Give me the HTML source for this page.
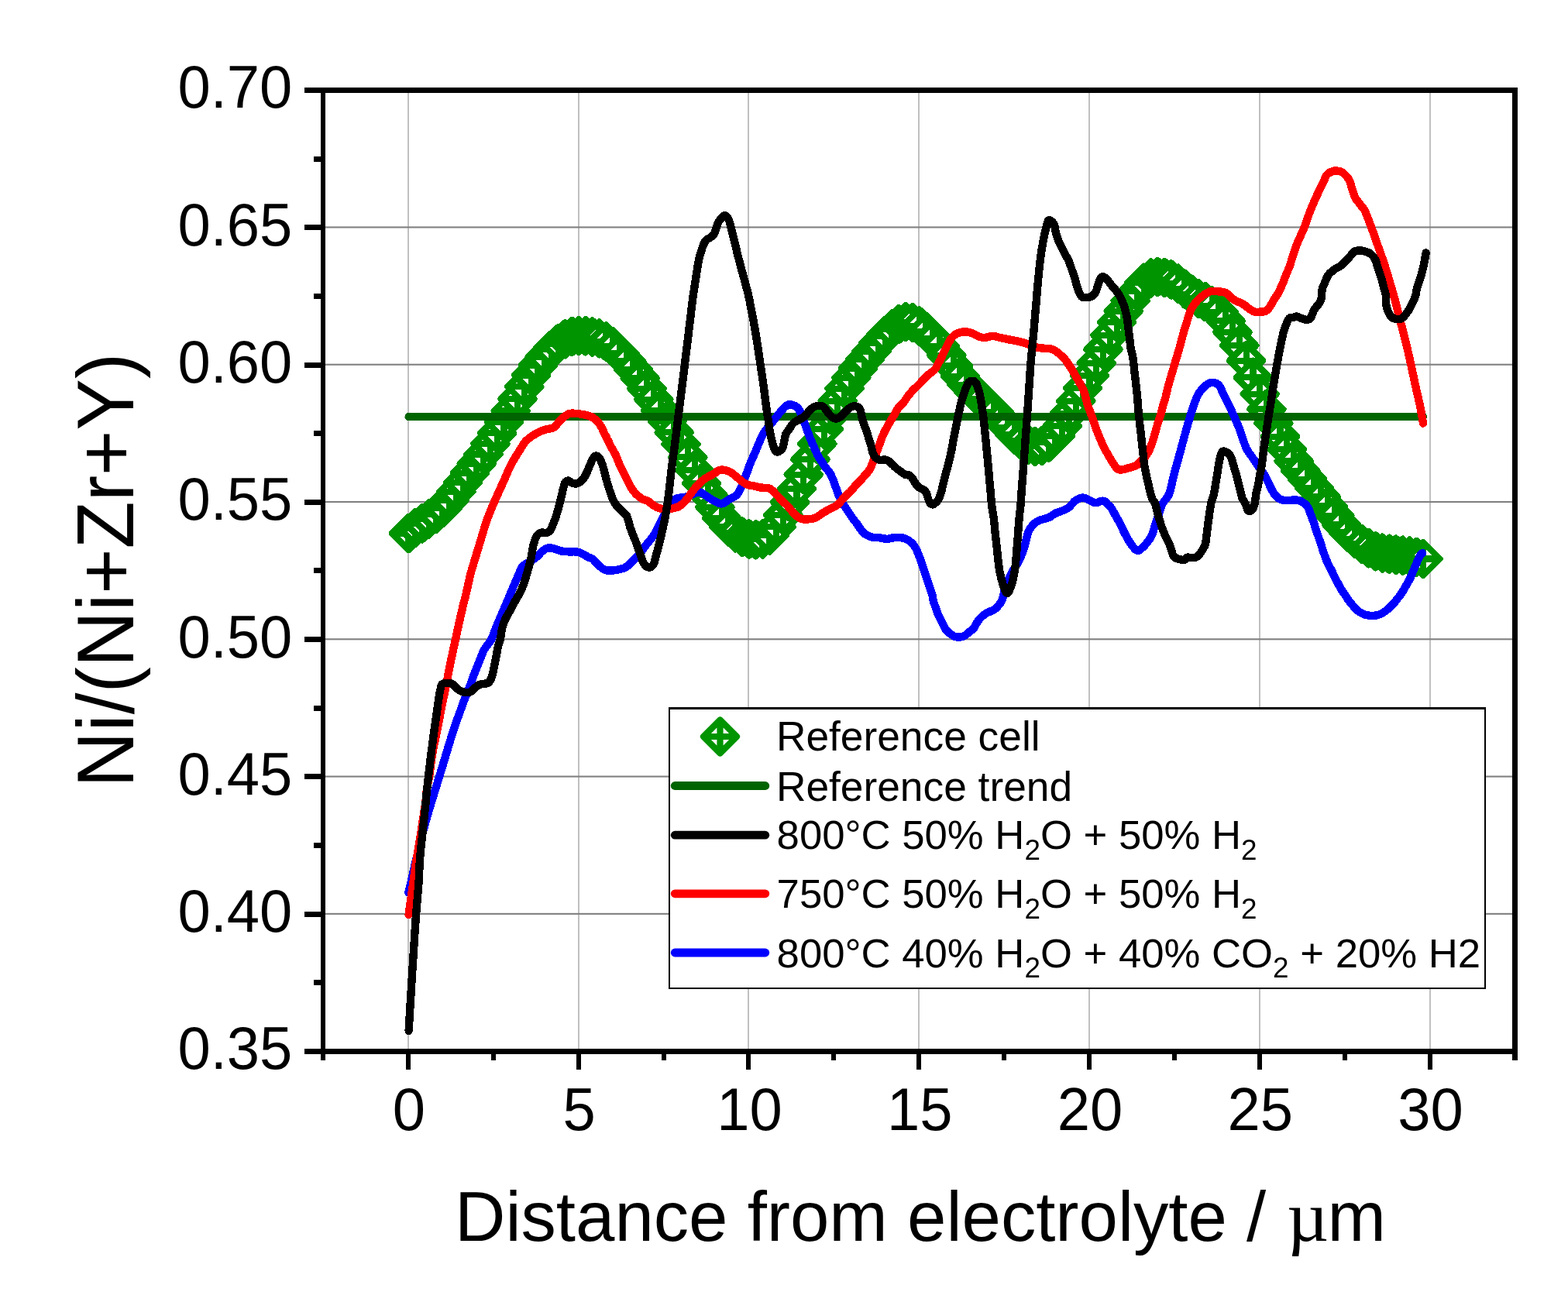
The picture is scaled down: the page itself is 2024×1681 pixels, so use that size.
<!DOCTYPE html>
<html lang="en">
<head>
<meta charset="utf-8">
<title>Ni/(Ni+Zr+Y) vs distance from electrolyte</title>
<style>
html,body{margin:0;padding:0;background:#fff;}
body{width:2024px;height:1681px;overflow:hidden;}
svg{display:block;}
text{font-family:"Liberation Sans",Arial,Helvetica,sans-serif;fill:#000;}
.mu{font-family:"Liberation Serif","DejaVu Serif",serif;}
</style>
</head>
<body>
<svg xmlns="http://www.w3.org/2000/svg" width="2024" height="1681" viewBox="0 0 2024 1681">
<rect width="2024" height="1681" fill="#fff"/>
<g id="grid" shape-rendering="crispEdges">
<rect x="526" y="120" width="2" height="1234" fill="#c0c0c0"/>
<rect x="746" y="120" width="2" height="1234" fill="#c0c0c0"/>
<rect x="965" y="120" width="2" height="1234" fill="#c0c0c0"/>
<rect x="1185" y="120" width="2" height="1234" fill="#c0c0c0"/>
<rect x="1405" y="120" width="2" height="1234" fill="#c0c0c0"/>
<rect x="1625" y="120" width="2" height="1234" fill="#c0c0c0"/>
<rect x="1845" y="120" width="2" height="1234" fill="#c0c0c0"/>
</g>
<g id="hgrid">
<rect x="420" y="1178.81" width="1532" height="2.1" fill="#808080"/>
<rect x="420" y="1001.52" width="1532" height="2.1" fill="#808080"/>
<rect x="420" y="824.24" width="1532" height="2.1" fill="#808080"/>
<rect x="420" y="646.95" width="1532" height="2.1" fill="#808080"/>
<rect x="420" y="469.67" width="1532" height="2.1" fill="#808080"/>
<rect x="420" y="292.38" width="1532" height="2.1" fill="#808080"/>
</g>
<g id="refcell" shape-rendering="crispEdges" fill="#fff" stroke="#009400" stroke-width="8.2" stroke-linejoin="round">
<path d="M527.4 667.1l21.5 21.5l-21.5 21.5l-21.5 -21.5zm0 0v43.0m-21.5 -21.5h43.0"/>
<path d="M536.2 660.0l21.5 21.5l-21.5 21.5l-21.5 -21.5zm0 0v43.0m-21.5 -21.5h43.0"/>
<path d="M545.0 654.3l21.5 21.5l-21.5 21.5l-21.5 -21.5zm0 0v43.0m-21.5 -21.5h43.0"/>
<path d="M553.8 648.4l21.5 21.5l-21.5 21.5l-21.5 -21.5zm0 0v43.0m-21.5 -21.5h43.0"/>
<path d="M562.6 642.1l21.5 21.5l-21.5 21.5l-21.5 -21.5zm0 0v43.0m-21.5 -21.5h43.0"/>
<path d="M571.4 634.1l21.5 21.5l-21.5 21.5l-21.5 -21.5zm0 0v43.0m-21.5 -21.5h43.0"/>
<path d="M580.1 624.4l21.5 21.5l-21.5 21.5l-21.5 -21.5zm0 0v43.0m-21.5 -21.5h43.0"/>
<path d="M588.9 613.1l21.5 21.5l-21.5 21.5l-21.5 -21.5zm0 0v43.0m-21.5 -21.5h43.0"/>
<path d="M597.7 601.2l21.5 21.5l-21.5 21.5l-21.5 -21.5zm0 0v43.0m-21.5 -21.5h43.0"/>
<path d="M606.5 589.1l21.5 21.5l-21.5 21.5l-21.5 -21.5zm0 0v43.0m-21.5 -21.5h43.0"/>
<path d="M615.3 577.0l21.5 21.5l-21.5 21.5l-21.5 -21.5zm0 0v43.0m-21.5 -21.5h43.0"/>
<path d="M624.1 564.9l21.5 21.5l-21.5 21.5l-21.5 -21.5zm0 0v43.0m-21.5 -21.5h43.0"/>
<path d="M632.9 551.4l21.5 21.5l-21.5 21.5l-21.5 -21.5zm0 0v43.0m-21.5 -21.5h43.0"/>
<path d="M641.7 537.7l21.5 21.5l-21.5 21.5l-21.5 -21.5zm0 0v43.0m-21.5 -21.5h43.0"/>
<path d="M650.5 523.4l21.5 21.5l-21.5 21.5l-21.5 -21.5zm0 0v43.0m-21.5 -21.5h43.0"/>
<path d="M659.2 509.0l21.5 21.5l-21.5 21.5l-21.5 -21.5zm0 0v43.0m-21.5 -21.5h43.0"/>
<path d="M668.0 493.5l21.5 21.5l-21.5 21.5l-21.5 -21.5zm0 0v43.0m-21.5 -21.5h43.0"/>
<path d="M676.8 477.7l21.5 21.5l-21.5 21.5l-21.5 -21.5zm0 0v43.0m-21.5 -21.5h43.0"/>
<path d="M685.6 462.9l21.5 21.5l-21.5 21.5l-21.5 -21.5zm0 0v43.0m-21.5 -21.5h43.0"/>
<path d="M694.4 450.2l21.5 21.5l-21.5 21.5l-21.5 -21.5zm0 0v43.0m-21.5 -21.5h43.0"/>
<path d="M703.2 439.3l21.5 21.5l-21.5 21.5l-21.5 -21.5zm0 0v43.0m-21.5 -21.5h43.0"/>
<path d="M712.0 429.8l21.5 21.5l-21.5 21.5l-21.5 -21.5zm0 0v43.0m-21.5 -21.5h43.0"/>
<path d="M720.8 421.9l21.5 21.5l-21.5 21.5l-21.5 -21.5zm0 0v43.0m-21.5 -21.5h43.0"/>
<path d="M729.6 416.2l21.5 21.5l-21.5 21.5l-21.5 -21.5zm0 0v43.0m-21.5 -21.5h43.0"/>
<path d="M738.4 413.0l21.5 21.5l-21.5 21.5l-21.5 -21.5zm0 0v43.0m-21.5 -21.5h43.0"/>
<path d="M747.1 412.1l21.5 21.5l-21.5 21.5l-21.5 -21.5zm0 0v43.0m-21.5 -21.5h43.0"/>
<path d="M755.9 412.3l21.5 21.5l-21.5 21.5l-21.5 -21.5zm0 0v43.0m-21.5 -21.5h43.0"/>
<path d="M764.7 413.5l21.5 21.5l-21.5 21.5l-21.5 -21.5zm0 0v43.0m-21.5 -21.5h43.0"/>
<path d="M773.5 415.4l21.5 21.5l-21.5 21.5l-21.5 -21.5zm0 0v43.0m-21.5 -21.5h43.0"/>
<path d="M782.3 419.5l21.5 21.5l-21.5 21.5l-21.5 -21.5zm0 0v43.0m-21.5 -21.5h43.0"/>
<path d="M791.1 425.9l21.5 21.5l-21.5 21.5l-21.5 -21.5zm0 0v43.0m-21.5 -21.5h43.0"/>
<path d="M799.9 434.8l21.5 21.5l-21.5 21.5l-21.5 -21.5zm0 0v43.0m-21.5 -21.5h43.0"/>
<path d="M808.7 444.9l21.5 21.5l-21.5 21.5l-21.5 -21.5zm0 0v43.0m-21.5 -21.5h43.0"/>
<path d="M817.5 455.6l21.5 21.5l-21.5 21.5l-21.5 -21.5zm0 0v43.0m-21.5 -21.5h43.0"/>
<path d="M826.3 467.0l21.5 21.5l-21.5 21.5l-21.5 -21.5zm0 0v43.0m-21.5 -21.5h43.0"/>
<path d="M835.0 480.3l21.5 21.5l-21.5 21.5l-21.5 -21.5zm0 0v43.0m-21.5 -21.5h43.0"/>
<path d="M843.8 494.2l21.5 21.5l-21.5 21.5l-21.5 -21.5zm0 0v43.0m-21.5 -21.5h43.0"/>
<path d="M852.6 508.1l21.5 21.5l-21.5 21.5l-21.5 -21.5zm0 0v43.0m-21.5 -21.5h43.0"/>
<path d="M861.4 521.9l21.5 21.5l-21.5 21.5l-21.5 -21.5zm0 0v43.0m-21.5 -21.5h43.0"/>
<path d="M870.2 536.7l21.5 21.5l-21.5 21.5l-21.5 -21.5zm0 0v43.0m-21.5 -21.5h43.0"/>
<path d="M879.0 552.0l21.5 21.5l-21.5 21.5l-21.5 -21.5zm0 0v43.0m-21.5 -21.5h43.0"/>
<path d="M887.8 568.8l21.5 21.5l-21.5 21.5l-21.5 -21.5zm0 0v43.0m-21.5 -21.5h43.0"/>
<path d="M896.6 585.8l21.5 21.5l-21.5 21.5l-21.5 -21.5zm0 0v43.0m-21.5 -21.5h43.0"/>
<path d="M905.4 602.4l21.5 21.5l-21.5 21.5l-21.5 -21.5zm0 0v43.0m-21.5 -21.5h43.0"/>
<path d="M914.2 617.8l21.5 21.5l-21.5 21.5l-21.5 -21.5zm0 0v43.0m-21.5 -21.5h43.0"/>
<path d="M923.0 633.4l21.5 21.5l-21.5 21.5l-21.5 -21.5zm0 0v43.0m-21.5 -21.5h43.0"/>
<path d="M931.7 647.5l21.5 21.5l-21.5 21.5l-21.5 -21.5zm0 0v43.0m-21.5 -21.5h43.0"/>
<path d="M940.5 658.7l21.5 21.5l-21.5 21.5l-21.5 -21.5zm0 0v43.0m-21.5 -21.5h43.0"/>
<path d="M949.3 666.4l21.5 21.5l-21.5 21.5l-21.5 -21.5zm0 0v43.0m-21.5 -21.5h43.0"/>
<path d="M958.1 671.7l21.5 21.5l-21.5 21.5l-21.5 -21.5zm0 0v43.0m-21.5 -21.5h43.0"/>
<path d="M966.9 674.5l21.5 21.5l-21.5 21.5l-21.5 -21.5zm0 0v43.0m-21.5 -21.5h43.0"/>
<path d="M975.7 675.3l21.5 21.5l-21.5 21.5l-21.5 -21.5zm0 0v43.0m-21.5 -21.5h43.0"/>
<path d="M984.5 674.6l21.5 21.5l-21.5 21.5l-21.5 -21.5zm0 0v43.0m-21.5 -21.5h43.0"/>
<path d="M993.3 669.5l21.5 21.5l-21.5 21.5l-21.5 -21.5zm0 0v43.0m-21.5 -21.5h43.0"/>
<path d="M1002.1 658.8l21.5 21.5l-21.5 21.5l-21.5 -21.5zm0 0v43.0m-21.5 -21.5h43.0"/>
<path d="M1010.9 643.5l21.5 21.5l-21.5 21.5l-21.5 -21.5zm0 0v43.0m-21.5 -21.5h43.0"/>
<path d="M1019.6 626.9l21.5 21.5l-21.5 21.5l-21.5 -21.5zm0 0v43.0m-21.5 -21.5h43.0"/>
<path d="M1028.4 609.7l21.5 21.5l-21.5 21.5l-21.5 -21.5zm0 0v43.0m-21.5 -21.5h43.0"/>
<path d="M1037.2 591.3l21.5 21.5l-21.5 21.5l-21.5 -21.5zm0 0v43.0m-21.5 -21.5h43.0"/>
<path d="M1046.0 571.6l21.5 21.5l-21.5 21.5l-21.5 -21.5zm0 0v43.0m-21.5 -21.5h43.0"/>
<path d="M1054.8 551.5l21.5 21.5l-21.5 21.5l-21.5 -21.5zm0 0v43.0m-21.5 -21.5h43.0"/>
<path d="M1063.6 532.6l21.5 21.5l-21.5 21.5l-21.5 -21.5zm0 0v43.0m-21.5 -21.5h43.0"/>
<path d="M1072.4 514.2l21.5 21.5l-21.5 21.5l-21.5 -21.5zm0 0v43.0m-21.5 -21.5h43.0"/>
<path d="M1081.2 496.3l21.5 21.5l-21.5 21.5l-21.5 -21.5zm0 0v43.0m-21.5 -21.5h43.0"/>
<path d="M1090.0 480.2l21.5 21.5l-21.5 21.5l-21.5 -21.5zm0 0v43.0m-21.5 -21.5h43.0"/>
<path d="M1098.8 466.1l21.5 21.5l-21.5 21.5l-21.5 -21.5zm0 0v43.0m-21.5 -21.5h43.0"/>
<path d="M1107.5 454.1l21.5 21.5l-21.5 21.5l-21.5 -21.5zm0 0v43.0m-21.5 -21.5h43.0"/>
<path d="M1116.3 442.6l21.5 21.5l-21.5 21.5l-21.5 -21.5zm0 0v43.0m-21.5 -21.5h43.0"/>
<path d="M1125.1 432.0l21.5 21.5l-21.5 21.5l-21.5 -21.5zm0 0v43.0m-21.5 -21.5h43.0"/>
<path d="M1133.9 421.3l21.5 21.5l-21.5 21.5l-21.5 -21.5zm0 0v43.0m-21.5 -21.5h43.0"/>
<path d="M1142.7 411.9l21.5 21.5l-21.5 21.5l-21.5 -21.5zm0 0v43.0m-21.5 -21.5h43.0"/>
<path d="M1151.5 403.5l21.5 21.5l-21.5 21.5l-21.5 -21.5zm0 0v43.0m-21.5 -21.5h43.0"/>
<path d="M1160.3 397.1l21.5 21.5l-21.5 21.5l-21.5 -21.5zm0 0v43.0m-21.5 -21.5h43.0"/>
<path d="M1169.1 394.0l21.5 21.5l-21.5 21.5l-21.5 -21.5zm0 0v43.0m-21.5 -21.5h43.0"/>
<path d="M1177.9 395.0l21.5 21.5l-21.5 21.5l-21.5 -21.5zm0 0v43.0m-21.5 -21.5h43.0"/>
<path d="M1186.7 399.5l21.5 21.5l-21.5 21.5l-21.5 -21.5zm0 0v43.0m-21.5 -21.5h43.0"/>
<path d="M1195.4 406.6l21.5 21.5l-21.5 21.5l-21.5 -21.5zm0 0v43.0m-21.5 -21.5h43.0"/>
<path d="M1204.2 415.3l21.5 21.5l-21.5 21.5l-21.5 -21.5zm0 0v43.0m-21.5 -21.5h43.0"/>
<path d="M1213.0 425.1l21.5 21.5l-21.5 21.5l-21.5 -21.5zm0 0v43.0m-21.5 -21.5h43.0"/>
<path d="M1221.8 437.1l21.5 21.5l-21.5 21.5l-21.5 -21.5zm0 0v43.0m-21.5 -21.5h43.0"/>
<path d="M1230.6 450.9l21.5 21.5l-21.5 21.5l-21.5 -21.5zm0 0v43.0m-21.5 -21.5h43.0"/>
<path d="M1239.4 464.4l21.5 21.5l-21.5 21.5l-21.5 -21.5zm0 0v43.0m-21.5 -21.5h43.0"/>
<path d="M1248.2 475.4l21.5 21.5l-21.5 21.5l-21.5 -21.5zm0 0v43.0m-21.5 -21.5h43.0"/>
<path d="M1257.0 484.8l21.5 21.5l-21.5 21.5l-21.5 -21.5zm0 0v43.0m-21.5 -21.5h43.0"/>
<path d="M1265.8 493.5l21.5 21.5l-21.5 21.5l-21.5 -21.5zm0 0v43.0m-21.5 -21.5h43.0"/>
<path d="M1274.6 501.8l21.5 21.5l-21.5 21.5l-21.5 -21.5zm0 0v43.0m-21.5 -21.5h43.0"/>
<path d="M1283.3 510.5l21.5 21.5l-21.5 21.5l-21.5 -21.5zm0 0v43.0m-21.5 -21.5h43.0"/>
<path d="M1292.1 520.1l21.5 21.5l-21.5 21.5l-21.5 -21.5zm0 0v43.0m-21.5 -21.5h43.0"/>
<path d="M1300.9 530.1l21.5 21.5l-21.5 21.5l-21.5 -21.5zm0 0v43.0m-21.5 -21.5h43.0"/>
<path d="M1309.7 539.5l21.5 21.5l-21.5 21.5l-21.5 -21.5zm0 0v43.0m-21.5 -21.5h43.0"/>
<path d="M1318.5 547.1l21.5 21.5l-21.5 21.5l-21.5 -21.5zm0 0v43.0m-21.5 -21.5h43.0"/>
<path d="M1327.3 552.9l21.5 21.5l-21.5 21.5l-21.5 -21.5zm0 0v43.0m-21.5 -21.5h43.0"/>
<path d="M1336.1 555.1l21.5 21.5l-21.5 21.5l-21.5 -21.5zm0 0v43.0m-21.5 -21.5h43.0"/>
<path d="M1344.9 554.0l21.5 21.5l-21.5 21.5l-21.5 -21.5zm0 0v43.0m-21.5 -21.5h43.0"/>
<path d="M1353.7 549.7l21.5 21.5l-21.5 21.5l-21.5 -21.5zm0 0v43.0m-21.5 -21.5h43.0"/>
<path d="M1362.5 541.3l21.5 21.5l-21.5 21.5l-21.5 -21.5zm0 0v43.0m-21.5 -21.5h43.0"/>
<path d="M1371.2 528.4l21.5 21.5l-21.5 21.5l-21.5 -21.5zm0 0v43.0m-21.5 -21.5h43.0"/>
<path d="M1380.0 512.6l21.5 21.5l-21.5 21.5l-21.5 -21.5zm0 0v43.0m-21.5 -21.5h43.0"/>
<path d="M1388.8 496.4l21.5 21.5l-21.5 21.5l-21.5 -21.5zm0 0v43.0m-21.5 -21.5h43.0"/>
<path d="M1397.6 479.6l21.5 21.5l-21.5 21.5l-21.5 -21.5zm0 0v43.0m-21.5 -21.5h43.0"/>
<path d="M1406.4 463.5l21.5 21.5l-21.5 21.5l-21.5 -21.5zm0 0v43.0m-21.5 -21.5h43.0"/>
<path d="M1415.2 447.3l21.5 21.5l-21.5 21.5l-21.5 -21.5zm0 0v43.0m-21.5 -21.5h43.0"/>
<path d="M1424.0 429.6l21.5 21.5l-21.5 21.5l-21.5 -21.5zm0 0v43.0m-21.5 -21.5h43.0"/>
<path d="M1432.8 411.2l21.5 21.5l-21.5 21.5l-21.5 -21.5zm0 0v43.0m-21.5 -21.5h43.0"/>
<path d="M1441.6 394.6l21.5 21.5l-21.5 21.5l-21.5 -21.5zm0 0v43.0m-21.5 -21.5h43.0"/>
<path d="M1450.3 380.1l21.5 21.5l-21.5 21.5l-21.5 -21.5zm0 0v43.0m-21.5 -21.5h43.0"/>
<path d="M1459.1 366.8l21.5 21.5l-21.5 21.5l-21.5 -21.5zm0 0v43.0m-21.5 -21.5h43.0"/>
<path d="M1467.9 354.2l21.5 21.5l-21.5 21.5l-21.5 -21.5zm0 0v43.0m-21.5 -21.5h43.0"/>
<path d="M1476.7 343.8l21.5 21.5l-21.5 21.5l-21.5 -21.5zm0 0v43.0m-21.5 -21.5h43.0"/>
<path d="M1485.5 337.6l21.5 21.5l-21.5 21.5l-21.5 -21.5zm0 0v43.0m-21.5 -21.5h43.0"/>
<path d="M1494.3 336.0l21.5 21.5l-21.5 21.5l-21.5 -21.5zm0 0v43.0m-21.5 -21.5h43.0"/>
<path d="M1503.1 336.8l21.5 21.5l-21.5 21.5l-21.5 -21.5zm0 0v43.0m-21.5 -21.5h43.0"/>
<path d="M1511.9 339.5l21.5 21.5l-21.5 21.5l-21.5 -21.5zm0 0v43.0m-21.5 -21.5h43.0"/>
<path d="M1520.7 344.6l21.5 21.5l-21.5 21.5l-21.5 -21.5zm0 0v43.0m-21.5 -21.5h43.0"/>
<path d="M1529.5 351.7l21.5 21.5l-21.5 21.5l-21.5 -21.5zm0 0v43.0m-21.5 -21.5h43.0"/>
<path d="M1538.2 358.7l21.5 21.5l-21.5 21.5l-21.5 -21.5zm0 0v43.0m-21.5 -21.5h43.0"/>
<path d="M1547.0 363.9l21.5 21.5l-21.5 21.5l-21.5 -21.5zm0 0v43.0m-21.5 -21.5h43.0"/>
<path d="M1555.8 368.2l21.5 21.5l-21.5 21.5l-21.5 -21.5zm0 0v43.0m-21.5 -21.5h43.0"/>
<path d="M1564.6 373.5l21.5 21.5l-21.5 21.5l-21.5 -21.5zm0 0v43.0m-21.5 -21.5h43.0"/>
<path d="M1573.4 381.6l21.5 21.5l-21.5 21.5l-21.5 -21.5zm0 0v43.0m-21.5 -21.5h43.0"/>
<path d="M1582.2 392.8l21.5 21.5l-21.5 21.5l-21.5 -21.5zm0 0v43.0m-21.5 -21.5h43.0"/>
<path d="M1591.0 407.4l21.5 21.5l-21.5 21.5l-21.5 -21.5zm0 0v43.0m-21.5 -21.5h43.0"/>
<path d="M1599.8 424.5l21.5 21.5l-21.5 21.5l-21.5 -21.5zm0 0v43.0m-21.5 -21.5h43.0"/>
<path d="M1608.6 444.2l21.5 21.5l-21.5 21.5l-21.5 -21.5zm0 0v43.0m-21.5 -21.5h43.0"/>
<path d="M1617.4 465.8l21.5 21.5l-21.5 21.5l-21.5 -21.5zm0 0v43.0m-21.5 -21.5h43.0"/>
<path d="M1626.2 487.2l21.5 21.5l-21.5 21.5l-21.5 -21.5zm0 0v43.0m-21.5 -21.5h43.0"/>
<path d="M1634.9 506.7l21.5 21.5l-21.5 21.5l-21.5 -21.5zm0 0v43.0m-21.5 -21.5h43.0"/>
<path d="M1643.7 524.9l21.5 21.5l-21.5 21.5l-21.5 -21.5zm0 0v43.0m-21.5 -21.5h43.0"/>
<path d="M1652.5 542.1l21.5 21.5l-21.5 21.5l-21.5 -21.5zm0 0v43.0m-21.5 -21.5h43.0"/>
<path d="M1661.3 558.8l21.5 21.5l-21.5 21.5l-21.5 -21.5zm0 0v43.0m-21.5 -21.5h43.0"/>
<path d="M1670.1 573.7l21.5 21.5l-21.5 21.5l-21.5 -21.5zm0 0v43.0m-21.5 -21.5h43.0"/>
<path d="M1678.9 586.5l21.5 21.5l-21.5 21.5l-21.5 -21.5zm0 0v43.0m-21.5 -21.5h43.0"/>
<path d="M1687.7 597.3l21.5 21.5l-21.5 21.5l-21.5 -21.5zm0 0v43.0m-21.5 -21.5h43.0"/>
<path d="M1696.5 608.5l21.5 21.5l-21.5 21.5l-21.5 -21.5zm0 0v43.0m-21.5 -21.5h43.0"/>
<path d="M1705.3 620.0l21.5 21.5l-21.5 21.5l-21.5 -21.5zm0 0v43.0m-21.5 -21.5h43.0"/>
<path d="M1714.1 631.9l21.5 21.5l-21.5 21.5l-21.5 -21.5zm0 0v43.0m-21.5 -21.5h43.0"/>
<path d="M1722.8 644.1l21.5 21.5l-21.5 21.5l-21.5 -21.5zm0 0v43.0m-21.5 -21.5h43.0"/>
<path d="M1731.6 655.9l21.5 21.5l-21.5 21.5l-21.5 -21.5zm0 0v43.0m-21.5 -21.5h43.0"/>
<path d="M1740.4 666.0l21.5 21.5l-21.5 21.5l-21.5 -21.5zm0 0v43.0m-21.5 -21.5h43.0"/>
<path d="M1749.2 674.2l21.5 21.5l-21.5 21.5l-21.5 -21.5zm0 0v43.0m-21.5 -21.5h43.0"/>
<path d="M1758.0 680.9l21.5 21.5l-21.5 21.5l-21.5 -21.5zm0 0v43.0m-21.5 -21.5h43.0"/>
<path d="M1766.8 686.3l21.5 21.5l-21.5 21.5l-21.5 -21.5zm0 0v43.0m-21.5 -21.5h43.0"/>
<path d="M1775.6 690.3l21.5 21.5l-21.5 21.5l-21.5 -21.5zm0 0v43.0m-21.5 -21.5h43.0"/>
<path d="M1784.4 692.6l21.5 21.5l-21.5 21.5l-21.5 -21.5zm0 0v43.0m-21.5 -21.5h43.0"/>
<path d="M1793.2 693.7l21.5 21.5l-21.5 21.5l-21.5 -21.5zm0 0v43.0m-21.5 -21.5h43.0"/>
<path d="M1802.0 694.7l21.5 21.5l-21.5 21.5l-21.5 -21.5zm0 0v43.0m-21.5 -21.5h43.0"/>
<path d="M1810.7 695.6l21.5 21.5l-21.5 21.5l-21.5 -21.5zm0 0v43.0m-21.5 -21.5h43.0"/>
<path d="M1819.5 696.6l21.5 21.5l-21.5 21.5l-21.5 -21.5zm0 0v43.0m-21.5 -21.5h43.0"/>
<path d="M1828.3 697.9l21.5 21.5l-21.5 21.5l-21.5 -21.5zm0 0v43.0m-21.5 -21.5h43.0"/>
<path d="M1837.1 700.0l21.5 21.5l-21.5 21.5l-21.5 -21.5zm0 0v43.0m-21.5 -21.5h43.0"/>
</g>
<line id="trend" shape-rendering="crispEdges" x1="527.4" y1="538.1" x2="1837.1" y2="538.1" stroke="#006400" stroke-width="10" stroke-linecap="round"/>
<g id="curves" shape-rendering="crispEdges" fill="none" stroke-width="10.4" stroke-linejoin="round" stroke-linecap="round">
<path id="blue" stroke="#0000ff" d="M527.4 1152.4 L528.3 1148.5 L529.2 1144.7 L530.3 1140.0 L532.9 1128.6 L536.0 1114.7 L539.3 1100.6 L542.6 1087.1 L546.1 1073.4 L550.0 1059.0 L555.3 1040.8 L561.2 1021.7 L567.2 1002.4 L573.8 980.6 L580.4 958.5 L586.3 940.0 L589.1 931.7 L591.7 924.8 L594.0 918.5 L595.4 914.4 L596.7 910.7 L598.2 906.6 L601.2 899.0 L604.7 890.4 L607.7 882.8 L609.2 878.5 L610.5 874.7 L611.9 870.9 L613.4 866.9 L615.0 863.0 L616.6 859.0 L618.2 854.9 L619.8 850.9 L621.4 847.1 L622.5 844.3 L623.5 841.6 L624.9 838.8 L627.9 834.5 L631.4 830.0 L634.5 825.3 L636.4 820.9 L638.0 816.3 L639.8 811.4 L642.9 803.9 L646.4 795.8 L649.9 787.6 L653.3 779.7 L656.7 771.7 L660.0 763.8 L663.6 755.4 L667.1 747.0 L670.2 740.0 L671.5 736.8 L672.6 734.1 L674.2 731.6 L677.4 729.0 L681.2 726.7 L684.9 724.4 L687.8 722.5 L690.6 720.6 L693.3 718.5 L695.7 716.1 L698.1 713.5 L700.4 711.3 L702.4 709.9 L704.4 708.6 L706.4 707.8 L707.9 707.4 L709.5 707.3 L711.1 707.4 L713.0 707.8 L715.0 708.3 L717.1 709.0 L719.4 709.8 L721.8 710.6 L724.2 711.4 L726.9 711.8 L729.6 712.1 L732.5 712.3 L736.5 712.4 L740.7 712.3 L744.4 712.5 L746.5 713.0 L748.4 713.5 L750.4 714.3 L753.5 716.0 L756.9 718.0 L759.9 719.7 L761.6 720.3 L763.2 720.9 L764.8 721.6 L766.4 723.0 L768.0 724.7 L769.5 726.4 L771.1 728.0 L772.7 729.6 L774.3 731.1 L775.8 732.4 L777.4 733.7 L779.0 734.7 L780.6 735.5 L782.1 736.1 L783.8 736.5 L786.1 736.7 L788.5 736.6 L790.9 736.5 L793.3 736.2 L795.7 735.8 L798.1 735.3 L800.5 734.8 L802.9 734.3 L805.2 733.5 L807.3 732.5 L809.3 731.3 L811.2 729.9 L813.2 728.1 L815.2 726.0 L817.1 724.0 L819.1 722.0 L821.1 720.1 L823.1 718.0 L825.1 715.7 L827.1 713.3 L829.0 710.9 L830.6 708.5 L832.1 706.1 L833.8 703.8 L835.7 701.4 L837.7 699.0 L839.7 696.6 L841.8 693.9 L843.8 691.2 L845.7 688.3 L847.4 685.2 L848.9 682.0 L850.4 678.8 L852.0 675.6 L853.6 672.4 L855.2 669.2 L856.7 666.5 L858.3 663.8 L860.0 660.9 L862.2 656.5 L864.5 651.7 L867.1 647.8 L869.0 646.0 L871.0 644.7 L873.0 643.7 L875.0 643.1 L877.0 642.7 L879.0 642.5 L881.0 642.2 L883.0 642.0 L884.9 641.6 L886.9 641.0 L888.9 640.3 L890.9 639.5 L892.9 638.6 L894.8 637.7 L896.8 636.9 L898.8 636.1 L900.8 635.5 L902.8 635.3 L904.8 635.9 L906.8 637.1 L908.7 638.3 L910.7 639.6 L912.7 641.1 L914.7 642.5 L916.7 643.7 L918.6 644.9 L920.6 646.0 L922.6 647.1 L924.6 648.1 L926.6 649.0 L928.2 649.7 L929.8 650.3 L931.4 650.4 L933.0 650.1 L934.5 649.3 L936.1 648.4 L937.7 647.3 L939.3 646.0 L940.9 644.8 L942.4 644.0 L944.0 643.3 L945.6 642.5 L947.3 641.6 L948.9 640.6 L950.4 639.5 L951.7 638.1 L952.9 636.5 L954.0 634.7 L955.2 632.5 L956.4 630.1 L957.5 627.6 L958.7 624.5 L959.9 621.3 L961.1 618.1 L962.3 614.9 L963.5 611.7 L964.7 608.6 L965.8 605.4 L967.0 602.2 L968.2 599.0 L969.4 596.2 L970.6 593.5 L971.8 590.7 L972.9 588.1 L974.1 585.4 L975.4 582.4 L978.1 575.8 L981.4 568.1 L984.6 561.4 L986.8 557.8 L989.0 554.7 L991.2 551.9 L993.1 549.4 L995.1 547.1 L997.1 544.7 L999.3 542.0 L1001.5 539.1 L1003.7 536.4 L1005.7 533.9 L1007.7 531.5 L1009.6 529.2 L1011.1 527.6 L1012.5 526.0 L1014.0 524.7 L1015.3 523.8 L1016.6 523.0 L1017.9 522.5 L1019.3 522.3 L1020.7 522.4 L1022.1 522.7 L1023.7 523.1 L1025.3 523.7 L1026.9 524.5 L1028.6 525.8 L1030.2 527.4 L1031.6 529.2 L1033.0 531.8 L1034.1 534.6 L1035.2 537.6 L1036.4 540.7 L1037.6 543.9 L1038.8 547.1 L1040.0 550.3 L1041.1 553.4 L1042.3 556.6 L1043.5 559.8 L1044.7 563.0 L1045.9 566.1 L1047.1 569.0 L1048.3 571.7 L1049.5 574.5 L1050.7 577.3 L1051.8 580.1 L1053.0 582.8 L1054.2 585.2 L1055.3 587.6 L1056.6 589.9 L1058.1 592.3 L1059.7 594.7 L1061.4 597.1 L1062.9 599.5 L1064.5 601.9 L1066.1 604.2 L1067.7 606.2 L1069.4 608.1 L1070.9 610.2 L1072.2 612.4 L1073.3 614.8 L1074.5 617.3 L1075.7 620.4 L1076.9 623.6 L1078.0 626.8 L1079.1 629.7 L1080.1 632.6 L1081.0 635.1 L1081.4 636.6 L1081.8 637.8 L1082.3 639.3 L1083.7 642.2 L1085.3 645.6 L1087.1 648.8 L1088.6 651.3 L1090.2 653.6 L1091.8 655.9 L1093.4 658.3 L1095.0 660.7 L1096.6 663.1 L1098.2 665.5 L1099.8 667.9 L1101.4 670.2 L1102.9 672.2 L1104.6 674.1 L1106.1 676.1 L1107.7 678.5 L1109.3 681.0 L1110.9 683.3 L1112.4 685.2 L1114.0 687.0 L1115.7 688.7 L1117.5 690.0 L1119.5 691.2 L1121.6 692.2 L1123.6 693.0 L1125.5 693.6 L1127.5 694.0 L1129.5 694.1 L1131.5 694.0 L1133.5 694.0 L1135.5 694.3 L1137.5 694.8 L1139.5 695.2 L1141.4 695.5 L1143.4 695.7 L1145.4 695.8 L1147.4 695.5 L1149.3 695.0 L1151.3 694.6 L1153.7 694.3 L1156.1 694.1 L1158.5 694.0 L1160.9 694.0 L1163.3 694.2 L1165.6 694.6 L1167.7 695.2 L1169.7 696.0 L1171.6 697.0 L1173.7 698.3 L1175.7 700.0 L1177.5 701.7 L1179.3 703.7 L1180.8 705.9 L1182.3 708.3 L1183.6 710.9 L1184.7 713.7 L1185.8 716.6 L1187.1 719.7 L1188.3 722.9 L1189.4 726.1 L1190.6 729.6 L1191.8 733.2 L1193.0 736.8 L1194.2 740.4 L1195.4 744.0 L1196.6 747.5 L1197.8 751.1 L1198.9 754.7 L1200.1 758.3 L1201.4 762.0 L1202.7 765.7 L1203.7 769.0 L1204.0 770.9 L1204.2 772.6 L1204.5 774.5 L1205.4 777.8 L1206.7 781.5 L1208.0 785.2 L1209.2 788.4 L1210.3 791.6 L1211.6 794.7 L1213.1 797.9 L1214.7 801.1 L1216.4 804.2 L1217.9 807.3 L1219.4 810.4 L1221.1 813.1 L1223.0 815.2 L1225.0 816.9 L1227.1 818.5 L1229.0 819.9 L1231.0 821.1 L1233.0 822.1 L1235.0 822.5 L1237.0 822.7 L1239.0 822.6 L1241.0 822.3 L1243.0 821.7 L1244.9 820.9 L1247.0 819.5 L1248.9 817.8 L1250.9 816.1 L1252.9 814.6 L1255.0 813.1 L1256.8 811.3 L1258.6 808.7 L1260.0 805.8 L1261.6 803.0 L1263.1 800.9 L1264.7 798.9 L1266.4 797.1 L1268.2 795.3 L1270.3 793.7 L1272.3 792.3 L1274.3 791.2 L1276.3 790.3 L1278.3 789.3 L1280.3 788.4 L1282.3 787.5 L1284.2 786.4 L1285.9 784.9 L1287.5 783.3 L1289.0 781.6 L1290.3 780.1 L1291.5 778.5 L1292.5 776.8 L1293.5 774.7 L1294.2 772.3 L1294.9 769.7 L1295.7 766.3 L1296.4 762.7 L1297.3 759.0 L1298.7 755.1 L1300.3 751.1 L1302.1 747.1 L1304.3 742.7 L1306.7 738.3 L1309.2 734.0 L1311.4 730.4 L1313.7 726.9 L1315.7 723.3 L1317.5 719.4 L1319.1 715.4 L1320.5 711.4 L1321.8 707.4 L1323.0 703.5 L1324.1 699.5 L1325.0 695.4 L1325.9 691.3 L1327.0 687.6 L1328.3 685.0 L1329.7 682.6 L1331.2 680.5 L1332.5 678.7 L1333.9 677.1 L1335.4 675.7 L1337.2 674.4 L1339.2 673.2 L1341.3 672.1 L1343.7 671.2 L1346.1 670.5 L1348.5 669.8 L1350.5 669.2 L1352.4 668.7 L1354.4 668.0 L1356.9 666.4 L1359.5 664.5 L1362.3 662.8 L1365.4 661.5 L1368.7 660.4 L1371.8 659.2 L1374.3 658.1 L1376.8 657.0 L1378.9 655.6 L1380.7 654.1 L1382.2 652.5 L1383.7 650.9 L1385.3 649.2 L1386.8 647.5 L1388.5 646.1 L1390.0 645.1 L1391.6 644.4 L1393.2 643.7 L1394.8 643.1 L1396.3 642.7 L1398.0 642.5 L1400.5 643.2 L1403.3 644.4 L1406.0 645.6 L1408.1 646.7 L1410.0 647.8 L1411.9 648.6 L1413.1 649.0 L1414.3 649.2 L1415.5 649.2 L1417.0 648.8 L1418.6 648.0 L1420.2 647.4 L1421.8 647.0 L1423.5 646.7 L1425.0 646.8 L1426.6 647.8 L1428.0 649.3 L1429.5 650.9 L1431.1 652.4 L1432.7 653.9 L1434.3 655.7 L1435.9 658.3 L1437.5 661.1 L1439.0 664.0 L1440.6 666.8 L1442.2 669.5 L1443.8 672.4 L1445.4 675.5 L1447.0 678.7 L1448.6 681.9 L1450.1 685.1 L1451.7 688.3 L1453.3 691.4 L1454.9 694.3 L1456.5 697.1 L1458.1 699.7 L1459.6 702.0 L1461.2 704.2 L1462.8 706.3 L1464.5 708.3 L1466.3 710.1 L1468.2 711.0 L1470.0 710.6 L1471.8 709.4 L1473.5 708.0 L1475.2 706.6 L1476.8 705.0 L1478.3 703.3 L1480.0 701.4 L1481.6 699.4 L1483.1 697.3 L1484.4 695.5 L1485.5 693.5 L1486.6 691.4 L1487.9 688.1 L1489.1 684.4 L1490.2 680.7 L1491.4 677.1 L1492.6 673.6 L1493.8 670.0 L1495.0 666.4 L1496.1 662.8 L1497.3 659.3 L1498.4 656.1 L1499.5 652.9 L1500.9 649.8 L1503.4 646.2 L1506.3 642.7 L1508.9 638.5 L1511.2 631.3 L1513.0 623.0 L1514.8 614.7 L1517.0 606.8 L1519.2 598.8 L1521.4 590.9 L1523.6 583.0 L1525.7 575.0 L1527.9 567.1 L1530.2 558.5 L1532.6 550.0 L1534.5 543.3 L1535.1 541.3 L1535.6 539.8 L1536.2 537.9 L1537.9 532.5 L1540.0 525.7 L1542.2 519.5 L1543.9 515.1 L1545.7 511.1 L1547.5 507.6 L1549.1 505.4 L1550.6 503.5 L1552.3 501.6 L1554.2 499.7 L1556.2 497.8 L1558.3 496.3 L1560.2 495.2 L1562.2 494.3 L1564.2 493.8 L1566.2 493.9 L1568.3 494.3 L1570.2 495.1 L1571.9 496.2 L1573.5 497.6 L1574.9 499.3 L1576.3 501.8 L1577.3 504.7 L1578.5 507.6 L1580.0 510.7 L1581.6 513.9 L1583.2 517.1 L1584.8 520.3 L1586.4 523.4 L1588.0 526.6 L1589.6 530.1 L1591.2 533.7 L1592.8 537.3 L1594.4 540.9 L1596.0 544.5 L1597.5 548.0 L1599.0 551.6 L1600.4 555.2 L1601.7 558.8 L1602.9 562.3 L1604.1 565.9 L1605.3 569.5 L1606.4 572.7 L1607.5 575.9 L1608.8 579.0 L1610.5 581.9 L1612.3 584.6 L1614.2 587.3 L1616.2 590.1 L1618.2 592.9 L1620.1 595.6 L1621.7 598.0 L1623.2 600.3 L1624.9 602.8 L1627.5 606.5 L1630.5 610.5 L1633.2 614.7 L1635.7 619.6 L1638.0 624.8 L1640.2 629.5 L1641.8 632.6 L1643.3 635.3 L1645.0 637.9 L1646.8 640.1 L1648.8 642.2 L1650.9 643.8 L1653.2 644.8 L1655.6 645.5 L1658.1 645.9 L1661.2 646.1 L1664.5 645.9 L1667.6 645.7 L1670.1 645.6 L1672.4 645.5 L1674.7 645.7 L1677.2 646.3 L1679.6 647.3 L1681.9 648.6 L1684.1 650.2 L1686.1 652.3 L1687.8 654.5 L1689.2 657.1 L1690.3 659.9 L1691.4 662.8 L1692.6 665.9 L1693.8 669.1 L1695.0 672.4 L1696.2 675.9 L1697.3 679.5 L1698.5 683.1 L1699.7 686.6 L1700.9 690.2 L1702.1 693.8 L1703.3 697.3 L1704.5 700.9 L1705.7 704.5 L1706.9 708.1 L1708.0 711.7 L1709.2 715.2 L1710.4 718.4 L1711.5 721.6 L1712.8 724.7 L1714.3 727.9 L1715.9 731.1 L1717.6 734.2 L1719.2 737.4 L1720.7 740.6 L1722.3 743.8 L1723.9 747.0 L1725.5 750.2 L1727.1 753.3 L1728.6 756.1 L1730.2 758.9 L1731.8 761.6 L1733.4 764.0 L1735.0 766.4 L1736.6 768.7 L1738.2 771.1 L1739.7 773.5 L1741.4 775.9 L1743.3 778.3 L1745.3 780.7 L1747.3 783.0 L1749.3 785.1 L1751.2 787.2 L1753.3 789.0 L1755.2 790.4 L1757.2 791.5 L1759.2 792.5 L1761.2 793.3 L1763.1 793.9 L1765.2 794.3 L1767.5 794.7 L1769.9 794.9 L1772.3 794.9 L1774.7 794.7 L1777.1 794.4 L1779.5 793.7 L1781.9 792.8 L1784.3 791.5 L1786.6 790.2 L1788.7 788.7 L1790.6 787.1 L1792.5 785.4 L1794.6 783.5 L1796.5 781.5 L1798.5 779.5 L1800.5 777.2 L1802.5 774.8 L1804.4 772.3 L1806.5 769.6 L1808.5 766.8 L1810.4 764.0 L1812.0 761.2 L1813.6 758.4 L1815.2 755.6 L1816.8 752.9 L1818.4 750.1 L1819.9 747.3 L1821.2 744.6 L1822.3 741.8 L1823.5 739.0 L1824.7 736.2 L1825.8 733.4 L1827.0 730.7 L1828.2 727.8 L1829.4 725.0 L1830.6 722.3 L1831.6 720.2 L1832.6 718.1 L1833.6 716.4 L1834.4 715.5 L1835.2 714.7 L1836.0 714.0"/>
<path id="red" stroke="#ff0000" d="M527.6 1181.0 L529.5 1167.2 L531.4 1153.4 L533.3 1140.0 L534.9 1128.4 L536.5 1117.2 L538.1 1106.6 L539.5 1098.4 L540.9 1090.6 L542.2 1082.8 L543.5 1074.9 L544.6 1066.9 L545.8 1059.0 L547.1 1050.9 L548.3 1042.9 L549.4 1035.2 L550.0 1029.0 L550.5 1023.1 L551.2 1017.3 L552.1 1012.4 L553.1 1007.6 L554.1 1002.4 L555.3 994.2 L556.4 985.1 L557.7 975.7 L559.9 963.8 L562.5 951.4 L564.9 940.0 L566.3 932.5 L567.6 925.5 L569.0 918.5 L570.6 910.5 L572.2 902.4 L573.8 894.7 L575.1 888.2 L576.3 882.0 L577.3 876.8 L577.8 874.8 L578.1 873.0 L578.5 870.9 L579.9 864.1 L581.6 855.5 L583.3 847.1 L584.9 839.6 L586.5 832.2 L588.0 825.3 L589.1 820.6 L590.0 816.2 L591.0 811.4 L592.7 803.9 L594.5 795.8 L596.4 787.6 L598.3 779.7 L600.4 771.7 L602.3 763.8 L604.1 755.8 L605.8 747.8 L607.7 740.0 L609.7 732.8 L611.9 725.7 L614.1 718.5 L616.5 710.6 L618.9 702.7 L621.3 694.7 L623.7 686.7 L626.1 678.8 L628.8 670.9 L631.7 663.1 L634.9 655.4 L638.2 647.7 L641.8 639.6 L645.5 631.4 L649.2 623.3 L652.8 615.2 L656.3 607.1 L660.0 599.5 L663.5 593.2 L667.1 587.2 L670.7 581.6 L673.4 577.2 L676.0 572.9 L679.0 569.1 L682.7 565.9 L686.7 563.0 L690.9 560.5 L694.8 558.3 L698.8 556.4 L702.8 554.9 L706.9 554.0 L711.1 553.3 L714.7 552.1 L716.9 550.3 L718.6 548.1 L720.4 545.9 L722.7 543.4 L725.2 541.0 L727.6 538.7 L729.6 537.1 L731.6 535.7 L733.5 534.6 L734.9 534.1 L736.2 533.8 L737.7 533.6 L739.7 533.6 L742.0 533.8 L744.2 534.0 L746.6 534.2 L749.0 534.6 L751.4 534.9 L753.8 535.3 L756.2 535.8 L758.5 536.4 L760.6 537.0 L762.5 537.8 L764.5 538.7 L766.5 540.1 L768.5 541.7 L770.4 543.5 L772.1 545.3 L773.7 547.3 L775.2 549.5 L776.8 552.4 L778.4 555.7 L779.9 559.0 L781.5 562.1 L783.1 565.3 L784.7 568.5 L786.3 571.7 L787.8 574.9 L789.5 578.0 L791.1 581.0 L792.8 583.9 L794.2 586.3 L794.8 587.4 L795.2 588.4 L795.7 589.5 L796.8 592.3 L798.0 595.7 L799.3 599.0 L800.8 602.2 L802.4 605.4 L804.0 608.6 L805.6 611.7 L807.2 614.9 L808.8 618.1 L810.4 621.3 L811.9 624.5 L813.5 627.6 L815.1 630.1 L816.6 632.5 L818.3 634.7 L820.2 636.9 L822.2 638.9 L824.3 640.7 L826.2 642.3 L828.2 643.7 L830.2 644.8 L832.2 645.5 L834.2 645.9 L836.2 646.6 L838.2 648.0 L840.1 649.8 L842.1 651.4 L844.1 652.7 L846.0 653.9 L848.0 655.0 L850.0 655.7 L852.0 656.3 L854.0 656.8 L856.3 657.0 L858.7 657.1 L861.1 657.1 L863.9 657.0 L866.7 656.6 L869.5 656.1 L871.9 655.5 L874.3 654.8 L876.6 653.8 L878.7 652.4 L880.7 650.8 L882.6 649.0 L884.6 646.8 L886.6 644.4 L888.5 641.9 L890.5 639.1 L892.5 636.3 L894.5 633.5 L896.4 631.1 L898.3 628.7 L900.4 626.4 L902.7 624.1 L905.1 621.9 L907.5 619.9 L909.9 618.1 L912.3 616.6 L914.7 615.1 L917.1 613.9 L919.6 612.7 L921.8 611.5 L923.5 610.3 L925.0 609.0 L926.6 608.0 L928.1 607.3 L929.7 606.8 L931.4 606.5 L933.3 606.6 L935.3 606.9 L937.3 607.4 L939.3 608.0 L941.3 608.8 L943.2 609.8 L945.3 611.2 L947.2 612.8 L949.2 614.5 L951.2 616.1 L953.2 617.7 L955.1 619.3 L957.1 620.9 L959.1 622.6 L961.1 624.0 L963.0 625.0 L965.0 625.8 L967.0 626.4 L969.4 626.9 L971.8 627.2 L974.2 627.6 L976.6 628.2 L978.9 628.9 L981.3 629.4 L983.7 629.6 L986.1 629.8 L988.5 630.0 L990.5 630.2 L992.4 630.4 L994.4 631.2 L997.9 634.0 L1001.6 638.0 L1005.0 641.6 L1007.1 643.8 L1009.0 645.7 L1010.9 647.6 L1012.9 649.6 L1014.9 651.5 L1016.9 653.5 L1018.9 655.9 L1020.8 658.3 L1022.8 660.7 L1024.8 662.8 L1026.7 664.9 L1028.8 666.6 L1030.7 668.0 L1032.7 669.1 L1034.7 670.0 L1037.0 670.4 L1039.5 670.5 L1041.9 670.4 L1044.3 670.3 L1046.7 670.1 L1049.0 669.6 L1051.1 669.0 L1053.0 668.2 L1055.0 667.2 L1057.0 665.9 L1058.9 664.5 L1060.9 663.1 L1062.9 661.8 L1064.8 660.7 L1066.9 659.5 L1069.2 658.3 L1071.6 657.1 L1074.0 655.9 L1076.4 654.7 L1078.9 653.3 L1081.1 651.8 L1083.2 649.7 L1085.1 647.5 L1087.1 645.2 L1089.1 643.2 L1091.1 641.2 L1093.0 639.3 L1095.0 637.3 L1097.0 635.4 L1099.0 633.3 L1101.0 631.0 L1102.9 628.5 L1104.9 626.2 L1106.9 624.2 L1108.9 622.2 L1110.9 620.2 L1112.9 617.9 L1114.9 615.5 L1116.8 613.1 L1118.9 610.9 L1120.9 608.6 L1122.8 606.0 L1125.1 601.0 L1127.3 595.2 L1129.2 589.9 L1130.5 586.6 L1131.6 583.5 L1132.8 580.4 L1134.0 577.2 L1135.2 574.1 L1136.3 570.9 L1137.5 567.7 L1138.6 564.5 L1139.9 561.4 L1141.4 558.2 L1143.0 555.0 L1144.7 551.9 L1146.3 548.9 L1147.9 546.1 L1149.4 543.5 L1150.4 542.0 L1151.3 540.6 L1152.4 539.0 L1154.7 534.9 L1157.4 529.9 L1160.1 525.7 L1162.1 523.6 L1164.0 521.9 L1166.0 520.0 L1168.0 517.3 L1169.9 514.4 L1171.9 511.6 L1173.8 509.2 L1175.7 506.9 L1177.8 504.5 L1180.8 501.5 L1184.0 498.5 L1187.1 495.4 L1190.1 492.1 L1192.9 488.9 L1195.7 486.1 L1197.7 484.3 L1199.7 482.8 L1201.7 481.3 L1203.6 479.8 L1205.5 478.2 L1207.6 475.9 L1213.8 464.6 L1221.0 449.3 L1227.1 437.9 L1229.2 435.3 L1231.1 433.4 L1233.1 431.9 L1235.4 430.6 L1237.8 429.6 L1240.2 428.9 L1242.6 428.5 L1245.0 428.3 L1247.4 428.3 L1249.8 428.7 L1252.2 429.3 L1254.5 430.1 L1256.9 431.2 L1259.2 432.5 L1261.7 433.7 L1264.4 434.7 L1267.3 435.6 L1270.0 436.1 L1272.0 435.9 L1274.0 435.4 L1275.9 434.9 L1277.9 434.4 L1279.9 433.9 L1281.9 433.7 L1284.2 434.0 L1286.6 434.8 L1289.0 435.5 L1291.7 436.1 L1294.5 436.7 L1297.3 437.2 L1300.1 437.9 L1302.9 438.5 L1305.7 439.0 L1308.8 439.6 L1312.0 440.2 L1315.2 440.8 L1317.9 441.5 L1320.6 442.3 L1323.5 443.2 L1328.5 445.0 L1333.9 447.0 L1339.0 448.6 L1342.4 449.2 L1345.5 449.5 L1348.5 449.8 L1351.0 449.9 L1353.3 450.0 L1355.7 450.3 L1358.1 451.1 L1360.5 452.1 L1362.8 453.3 L1364.9 454.7 L1366.8 456.4 L1368.7 458.1 L1370.8 459.9 L1372.8 461.9 L1374.7 464.0 L1376.7 466.6 L1378.7 469.5 L1380.6 472.4 L1382.7 475.4 L1384.6 478.6 L1386.6 481.9 L1388.6 485.4 L1390.6 489.0 L1392.5 492.6 L1394.6 496.0 L1396.6 499.4 L1398.5 503.3 L1400.4 509.3 L1402.0 515.9 L1403.6 521.9 L1404.8 525.3 L1406.0 528.3 L1407.1 531.4 L1408.3 534.5 L1409.5 537.7 L1410.7 540.9 L1411.9 544.5 L1413.1 548.1 L1414.3 551.6 L1415.4 554.9 L1416.6 558.0 L1417.8 561.1 L1419.0 564.0 L1420.2 566.7 L1421.4 569.5 L1422.6 572.3 L1423.7 575.0 L1425.0 577.8 L1426.5 580.6 L1428.1 583.4 L1429.8 586.1 L1431.3 588.9 L1432.9 591.7 L1434.5 594.5 L1436.1 597.0 L1437.7 599.4 L1439.3 601.6 L1440.4 603.2 L1441.5 604.7 L1442.8 605.8 L1444.3 606.3 L1445.9 606.4 L1447.6 606.4 L1449.5 606.1 L1451.5 605.7 L1453.5 605.2 L1455.5 604.6 L1457.5 604.0 L1459.5 603.4 L1461.5 602.9 L1463.5 602.3 L1465.5 601.6 L1467.1 600.6 L1468.7 599.3 L1470.2 598.0 L1471.4 596.9 L1472.5 595.8 L1473.8 594.5 L1476.1 592.0 L1478.7 589.0 L1480.9 586.1 L1482.3 583.8 L1483.4 581.5 L1484.5 579.0 L1485.7 575.9 L1487.0 572.7 L1488.0 569.5 L1488.9 566.7 L1489.7 564.0 L1490.4 561.1 L1491.4 557.7 L1492.4 554.1 L1493.4 550.4 L1494.7 546.2 L1496.1 541.8 L1497.3 537.9 L1498.1 535.6 L1498.7 533.6 L1499.4 531.4 L1500.1 528.4 L1500.9 525.1 L1501.7 521.9 L1502.7 518.7 L1503.7 515.6 L1504.7 512.4 L1505.5 508.8 L1506.3 505.2 L1507.1 501.6 L1508.0 498.2 L1509.0 494.8 L1510.1 490.9 L1512.1 484.0 L1514.5 476.0 L1516.8 468.3 L1518.9 461.4 L1520.9 454.6 L1522.8 448.0 L1524.4 442.0 L1526.0 436.0 L1527.5 430.2 L1529.1 424.9 L1530.7 419.8 L1532.3 414.7 L1533.8 409.8 L1535.3 404.9 L1537.1 400.4 L1538.9 397.0 L1540.9 393.8 L1543.0 390.9 L1545.3 388.3 L1547.6 386.0 L1550.2 383.8 L1552.9 381.6 L1555.7 379.5 L1558.5 377.8 L1560.9 376.8 L1563.2 376.1 L1565.6 375.7 L1568.0 375.7 L1570.4 376.0 L1572.8 376.4 L1575.2 376.6 L1577.7 376.8 L1579.9 377.2 L1581.6 377.8 L1583.2 378.6 L1584.7 379.6 L1586.3 381.1 L1587.8 382.8 L1589.4 384.4 L1591.3 385.9 L1593.3 387.3 L1595.4 388.5 L1597.3 389.4 L1599.3 390.1 L1601.3 390.9 L1603.3 392.0 L1605.3 393.2 L1607.3 394.5 L1609.2 396.0 L1611.2 397.7 L1613.2 399.2 L1615.4 400.6 L1617.7 401.8 L1620.0 402.6 L1622.0 402.8 L1623.9 402.8 L1626.0 402.6 L1628.4 402.6 L1630.8 402.5 L1633.1 402.0 L1634.8 401.0 L1636.4 399.6 L1637.8 397.9 L1639.9 394.9 L1641.9 391.4 L1643.8 388.0 L1645.6 385.2 L1647.4 382.5 L1649.2 379.7 L1650.8 376.6 L1652.4 373.4 L1653.9 370.2 L1655.3 367.0 L1656.6 363.8 L1657.8 360.6 L1659.1 357.4 L1660.4 354.2 L1661.7 351.1 L1662.7 348.5 L1663.8 345.9 L1665.0 342.8 L1667.2 335.8 L1669.8 327.4 L1672.6 319.0 L1676.1 310.4 L1680.0 301.8 L1683.7 293.4 L1686.4 286.0 L1688.9 278.7 L1691.6 271.4 L1695.1 263.2 L1698.7 254.9 L1702.1 247.6 L1704.2 243.2 L1706.2 239.4 L1708.0 235.7 L1709.3 232.7 L1710.4 229.8 L1711.6 227.4 L1712.7 225.9 L1713.9 224.6 L1715.2 223.6 L1716.7 222.6 L1718.3 221.8 L1720.0 221.2 L1721.5 220.8 L1723.1 220.5 L1724.7 220.5 L1726.3 220.6 L1727.9 220.8 L1729.5 221.2 L1730.9 221.7 L1732.3 222.4 L1733.6 223.2 L1734.9 224.3 L1736.1 225.5 L1737.2 226.8 L1738.5 228.1 L1739.7 229.4 L1740.8 230.9 L1741.7 232.8 L1742.5 234.8 L1743.2 236.9 L1743.8 238.9 L1744.4 240.9 L1744.9 242.8 L1745.5 244.4 L1746.1 245.9 L1746.7 247.6 L1747.6 250.3 L1748.6 253.3 L1749.7 255.9 L1750.8 257.7 L1752.0 259.2 L1753.3 260.7 L1754.4 262.3 L1755.6 263.8 L1756.8 265.4 L1758.3 267.3 L1759.9 269.2 L1761.4 271.4 L1762.9 274.7 L1764.4 278.4 L1765.8 282.1 L1767.2 285.7 L1768.6 289.3 L1770.2 293.4 L1773.0 301.2 L1776.1 310.1 L1779.2 319.0 L1782.1 327.0 L1784.9 334.9 L1787.5 342.8 L1790.0 350.7 L1792.4 358.6 L1794.7 366.6 L1797.0 374.6 L1799.3 382.6 L1801.5 390.4 L1803.1 397.0 L1804.7 403.4 L1806.2 409.8 L1807.8 415.7 L1809.4 421.5 L1811.0 427.6 L1813.0 435.4 L1815.0 443.5 L1816.9 451.4 L1818.4 457.9 L1819.9 464.3 L1821.3 471.0 L1823.3 480.1 L1825.3 489.7 L1827.3 499.0 L1829.2 507.3 L1831.1 515.3 L1832.8 522.8 L1833.9 528.4 L1834.8 533.6 L1835.6 538.3 L1836.1 541.2 L1836.6 543.9 L1837.0 546.6"/>
<path id="black" stroke="#000000" d="M527.6 1330.8 L529.3 1301.9 L531.1 1273.0 L532.8 1245.4 L534.3 1222.4 L535.7 1200.3 L537.1 1180.0 L538.3 1165.8 L539.4 1152.7 L540.5 1140.0 L541.1 1128.9 L541.5 1118.1 L542.2 1106.6 L543.7 1091.5 L545.4 1075.5 L547.2 1059.0 L549.1 1040.6 L550.9 1021.6 L553.0 1002.4 L555.6 980.6 L558.4 958.5 L560.9 940.0 L562.1 931.8 L563.1 924.8 L564.0 918.5 L564.6 914.3 L565.1 910.4 L565.7 906.6 L566.3 902.5 L566.9 898.4 L567.5 894.7 L567.9 892.5 L568.4 890.5 L568.8 888.7 L569.0 887.4 L569.2 886.1 L569.6 884.9 L570.2 884.0 L570.9 883.3 L571.8 882.7 L573.4 882.3 L575.3 882.2 L577.3 882.2 L579.4 882.2 L581.4 882.3 L583.3 882.8 L585.0 883.9 L586.5 885.4 L588.0 887.0 L589.6 888.4 L591.1 889.9 L592.8 891.1 L594.7 892.1 L596.7 892.9 L598.8 893.5 L600.8 893.9 L602.8 894.2 L604.7 894.1 L606.4 893.6 L608.0 892.7 L609.5 891.7 L611.1 890.2 L612.6 888.5 L614.2 887.0 L615.8 885.8 L617.3 884.8 L619.0 884.0 L620.9 883.4 L623.0 883.1 L624.9 882.8 L626.6 882.6 L628.2 882.4 L629.7 882.0 L631.0 880.9 L632.1 879.6 L633.0 878.0 L634.0 875.9 L634.9 873.5 L635.6 870.9 L636.6 867.2 L637.4 863.1 L638.3 859.0 L639.1 855.0 L639.9 851.1 L640.6 847.1 L641.3 843.1 L642.0 839.1 L642.8 835.2 L643.7 831.9 L644.8 828.7 L645.8 825.3 L646.6 820.8 L647.2 816.0 L648.1 811.4 L649.3 807.3 L650.7 803.4 L652.3 799.5 L654.3 795.5 L656.6 791.6 L658.9 787.6 L661.0 783.6 L663.0 779.7 L665.2 775.7 L667.5 771.7 L669.8 767.8 L671.9 763.8 L673.7 759.9 L675.3 755.9 L676.7 751.9 L678.0 748.0 L679.1 744.1 L680.3 740.0 L681.9 734.6 L683.5 729.0 L684.9 723.2 L686.0 717.6 L686.9 711.9 L687.9 706.6 L688.8 702.7 L689.8 699.1 L690.9 695.9 L691.9 693.6 L693.1 691.6 L694.5 689.9 L695.9 688.8 L697.5 688.0 L699.2 687.5 L701.2 687.6 L703.2 688.1 L705.2 688.1 L706.9 687.5 L708.5 686.5 L709.9 685.2 L711.3 683.1 L712.4 680.6 L713.5 678.0 L714.7 675.0 L715.9 671.7 L717.1 668.5 L718.1 665.4 L719.1 662.2 L720.0 659.0 L721.1 655.3 L722.1 651.5 L723.0 647.7 L723.8 644.3 L724.6 640.9 L725.4 637.6 L726.2 634.3 L726.9 631.0 L727.8 628.0 L728.5 625.8 L729.2 623.7 L730.2 622.1 L731.2 621.3 L732.5 620.7 L733.7 620.6 L734.9 621.0 L736.1 621.9 L737.3 622.7 L738.8 623.5 L740.4 624.1 L742.1 624.5 L743.7 624.4 L745.3 623.9 L746.8 623.3 L748.5 622.4 L750.1 621.2 L751.6 619.7 L753.3 617.6 L754.9 615.1 L756.3 612.6 L757.6 609.9 L758.8 607.1 L759.9 604.3 L761.1 601.4 L762.3 598.6 L763.5 595.9 L764.4 593.9 L765.4 592.1 L766.5 590.6 L767.4 589.6 L768.4 588.8 L769.4 588.4 L770.6 588.7 L771.9 589.5 L773.0 590.6 L774.1 592.1 L775.1 593.9 L776.0 595.9 L777.0 598.5 L778.0 601.3 L778.9 604.3 L780.0 608.1 L780.9 612.2 L781.9 616.1 L782.9 619.8 L783.9 623.3 L784.9 626.9 L786.0 630.5 L787.2 634.1 L788.5 637.6 L789.6 640.7 L790.8 643.8 L792.1 646.6 L793.2 648.8 L794.4 650.7 L795.7 652.6 L797.2 654.2 L798.8 655.8 L800.5 657.3 L802.1 659.0 L803.7 660.6 L805.2 662.1 L806.5 663.3 L807.7 664.3 L808.8 665.7 L809.8 667.8 L810.5 670.3 L811.2 672.8 L812.0 675.5 L812.7 678.3 L813.5 681.1 L814.5 683.9 L815.5 686.7 L816.5 689.5 L817.7 692.3 L818.9 695.0 L820.1 697.8 L821.1 700.6 L822.1 703.3 L823.1 706.1 L824.1 708.9 L825.1 711.7 L826.0 714.5 L827.0 717.3 L828.0 720.1 L829.0 722.8 L829.9 725.0 L830.9 727.0 L832.0 728.7 L832.9 729.9 L833.9 730.9 L835.0 731.7 L836.1 732.2 L837.3 732.5 L838.5 732.5 L839.8 732.2 L841.0 731.4 L842.1 730.5 L843.0 729.3 L843.8 727.9 L844.5 726.4 L845.2 724.2 L845.7 721.7 L846.3 719.2 L847.0 716.5 L847.9 713.7 L848.6 710.9 L849.5 707.8 L850.2 704.6 L851.0 701.4 L851.8 698.2 L852.6 695.1 L853.4 691.8 L854.2 688.3 L855.0 684.7 L855.8 681.1 L856.6 677.6 L857.4 674.0 L858.2 670.4 L858.8 666.9 L859.4 663.3 L860.0 659.7 L860.6 655.8 L861.3 651.9 L862.0 647.8 L862.5 643.5 L863.0 639.1 L863.5 634.7 L864.0 630.4 L864.5 626.1 L865.0 621.6 L865.5 616.9 L866.0 612.2 L866.6 607.4 L867.2 602.6 L867.8 597.8 L868.4 593.1 L869.0 589.2 L869.5 585.4 L870.3 580.0 L875.7 536.9 L883.3 475.4 L889.0 428.5 L890.1 419.0 L891.0 411.9 L891.9 404.7 L892.8 396.8 L893.8 388.8 L894.8 380.9 L896.1 372.7 L897.4 364.4 L898.5 357.1 L899.1 352.8 L899.7 349.0 L900.3 345.2 L901.0 341.2 L901.7 337.1 L902.6 333.3 L903.4 330.0 L904.3 326.8 L905.3 323.8 L906.2 320.9 L907.2 318.1 L908.3 315.4 L909.3 313.3 L910.5 311.2 L911.9 309.5 L913.5 308.4 L915.4 307.5 L917.2 306.5 L918.7 305.3 L920.1 303.9 L921.4 302.4 L922.5 300.2 L923.5 297.7 L924.4 295.2 L925.1 292.8 L925.8 290.4 L926.7 288.1 L927.8 286.2 L929.0 284.4 L930.3 282.7 L931.5 281.4 L932.7 280.1 L933.9 279.1 L934.5 278.7 L935.0 278.3 L935.6 278.2 L936.6 278.6 L937.7 279.3 L938.6 280.3 L939.7 281.9 L940.6 283.7 L941.4 285.7 L942.1 288.0 L942.7 290.6 L943.4 293.4 L944.6 298.2 L946.1 303.7 L947.5 309.5 L949.4 317.1 L951.3 325.2 L953.3 333.3 L955.4 341.2 L957.5 349.2 L959.7 357.1 L961.9 365.0 L964.0 372.9 L966.0 380.9 L967.7 388.8 L969.2 396.7 L970.8 404.7 L972.3 412.7 L973.8 420.6 L975.1 428.5 L976.3 435.7 L977.4 442.9 L978.5 450.0 L979.5 457.0 L980.6 463.9 L981.6 471.2 L983.0 480.4 L984.5 490.1 L985.8 499.5 L986.8 507.6 L987.8 515.4 L988.8 523.3 L990.0 531.5 L991.2 539.8 L992.4 547.1 L993.0 551.4 L993.5 555.2 L994.1 559.0 L994.9 562.7 L995.7 566.3 L996.5 569.7 L997.2 572.6 L998.0 575.5 L998.9 578.0 L999.9 580.2 L1001.1 582.2 L1002.5 583.4 L1003.8 583.4 L1005.3 582.9 L1006.6 582.2 L1008.0 581.1 L1009.2 579.7 L1010.2 578.0 L1011.2 575.2 L1011.9 571.8 L1012.6 568.5 L1013.1 565.6 L1013.6 562.8 L1014.4 560.2 L1015.6 558.1 L1017.0 556.2 L1018.5 554.2 L1020.1 551.8 L1021.6 549.3 L1023.3 547.1 L1024.8 545.7 L1026.4 544.5 L1028.0 543.5 L1029.6 542.7 L1031.2 541.9 L1032.8 541.1 L1034.8 540.1 L1036.9 538.9 L1038.8 537.6 L1040.4 535.7 L1042.0 533.6 L1043.5 531.6 L1045.1 529.9 L1046.6 528.3 L1048.3 526.9 L1049.8 525.9 L1051.4 525.1 L1053.0 524.5 L1054.6 524.1 L1056.2 524.0 L1057.8 524.0 L1059.4 524.1 L1061.1 524.5 L1062.6 525.1 L1063.9 526.2 L1065.0 527.7 L1066.1 529.2 L1067.3 530.8 L1068.5 532.4 L1069.7 534.0 L1071.2 535.7 L1072.8 537.4 L1074.5 538.8 L1076.0 539.7 L1077.6 540.3 L1079.2 540.5 L1080.8 540.3 L1082.4 539.7 L1084.0 538.8 L1085.6 537.4 L1087.2 535.7 L1088.7 534.0 L1090.3 532.4 L1091.9 530.8 L1093.5 529.2 L1095.0 527.9 L1096.6 526.7 L1098.3 525.7 L1099.8 525.0 L1101.4 524.4 L1103.0 524.2 L1104.7 524.4 L1106.3 524.9 L1107.8 525.7 L1109.0 526.9 L1109.9 528.6 L1110.8 530.4 L1111.5 533.0 L1112.0 535.9 L1112.5 538.8 L1113.3 541.5 L1114.0 544.3 L1114.9 547.1 L1116.1 550.2 L1117.3 553.4 L1118.5 556.6 L1119.5 559.8 L1120.5 563.0 L1121.5 566.1 L1122.5 569.3 L1123.5 572.5 L1124.4 575.6 L1125.2 578.9 L1125.9 582.2 L1126.8 585.2 L1127.8 587.4 L1129.0 589.4 L1130.4 591.1 L1132.2 592.5 L1134.2 593.5 L1136.3 594.1 L1138.3 594.0 L1140.3 593.6 L1142.3 593.5 L1143.9 593.9 L1145.5 594.5 L1147.0 595.3 L1148.7 596.5 L1150.2 597.9 L1151.8 599.5 L1153.4 601.0 L1155.0 602.7 L1156.6 604.2 L1158.1 605.5 L1159.7 606.6 L1161.3 607.8 L1162.9 609.0 L1164.6 610.3 L1166.1 611.3 L1167.1 612.0 L1168.1 612.6 L1169.2 613.1 L1170.7 613.3 L1172.4 613.3 L1174.0 613.7 L1175.7 615.1 L1177.3 617.0 L1178.7 619.0 L1179.9 621.0 L1181.0 623.1 L1182.3 625.0 L1183.8 626.7 L1185.4 628.4 L1187.0 629.8 L1188.6 630.6 L1190.3 631.3 L1191.8 632.1 L1193.1 633.2 L1194.3 634.3 L1195.4 635.7 L1196.3 637.9 L1197.0 640.4 L1197.8 642.8 L1198.5 645.0 L1199.2 647.1 L1200.1 648.8 L1201.2 650.0 L1202.4 651.0 L1203.7 651.4 L1205.0 651.0 L1206.3 650.1 L1207.6 649.1 L1208.9 647.9 L1210.1 646.5 L1211.2 644.9 L1212.4 642.5 L1213.5 639.6 L1214.5 636.6 L1215.6 632.8 L1216.5 628.7 L1217.5 624.7 L1218.5 620.7 L1219.4 616.8 L1220.5 612.8 L1221.5 608.8 L1222.6 604.9 L1223.7 600.9 L1224.7 596.9 L1225.7 593.0 L1226.6 589.0 L1227.5 585.0 L1228.3 581.1 L1229.0 577.1 L1229.7 573.1 L1230.4 569.2 L1231.2 565.2 L1231.9 561.2 L1232.7 557.3 L1233.5 553.3 L1234.3 549.3 L1235.1 545.4 L1235.9 541.4 L1236.8 537.4 L1237.6 533.5 L1238.5 529.5 L1239.4 525.5 L1240.3 521.6 L1241.3 517.6 L1242.5 513.5 L1243.8 509.5 L1245.1 505.7 L1246.1 502.9 L1247.0 500.3 L1248.1 498.0 L1249.0 496.1 L1249.9 494.5 L1251.0 493.2 L1252.1 492.4 L1253.4 491.9 L1254.6 491.7 L1255.8 491.7 L1257.1 492.0 L1258.2 492.6 L1259.3 493.8 L1260.3 495.5 L1261.1 497.4 L1262.1 499.9 L1263.0 502.7 L1263.8 505.7 L1264.7 509.5 L1265.5 513.5 L1266.3 517.6 L1266.9 521.6 L1267.5 525.5 L1268.0 529.5 L1268.6 533.3 L1269.2 537.1 L1269.7 541.4 L1270.5 548.7 L1271.3 557.0 L1272.1 565.2 L1272.9 573.1 L1273.7 581.1 L1274.5 589.0 L1275.2 596.9 L1275.9 604.9 L1276.6 612.8 L1277.3 620.9 L1278.1 628.9 L1278.8 636.6 L1279.3 642.8 L1279.8 648.7 L1280.4 654.4 L1281.2 659.7 L1282.1 664.8 L1282.9 670.0 L1283.5 675.7 L1284.0 681.5 L1284.6 687.6 L1285.4 695.3 L1286.3 703.3 L1287.2 711.4 L1288.0 719.6 L1288.9 727.7 L1289.9 735.2 L1290.9 740.3 L1292.0 745.0 L1293.1 749.5 L1294.2 753.3 L1295.4 756.9 L1296.7 760.2 L1297.8 762.8 L1299.1 765.1 L1300.3 766.1 L1301.3 765.3 L1302.3 763.5 L1303.2 761.4 L1304.4 758.6 L1305.5 755.4 L1306.6 751.8 L1307.9 746.8 L1309.1 741.2 L1310.2 735.2 L1311.0 727.6 L1311.7 719.5 L1312.3 711.4 L1312.9 703.5 L1313.6 695.5 L1314.2 687.6 L1314.8 679.3 L1315.5 670.9 L1316.1 663.8 L1316.5 660.5 L1316.9 657.6 L1317.3 654.4 L1317.7 649.0 L1318.1 642.9 L1318.5 636.6 L1319.1 628.9 L1319.7 620.8 L1320.3 612.8 L1320.9 604.9 L1321.5 596.9 L1322.1 589.0 L1322.7 581.1 L1323.3 573.1 L1323.8 565.2 L1324.4 557.4 L1325.0 549.7 L1325.6 541.4 L1326.4 530.0 L1327.2 517.9 L1328.0 505.7 L1328.8 493.9 L1329.5 482.2 L1330.4 470.0 L1331.7 455.4 L1333.2 440.3 L1334.5 426.6 L1335.2 418.1 L1335.9 410.5 L1336.5 402.8 L1337.2 394.9 L1337.9 386.9 L1338.5 379.0 L1339.2 371.1 L1339.9 363.1 L1340.7 355.2 L1341.5 347.3 L1342.3 339.3 L1343.3 331.4 L1344.5 323.1 L1345.9 314.9 L1347.2 307.6 L1348.2 303.2 L1349.1 299.4 L1350.0 295.7 L1350.6 292.7 L1351.3 289.8 L1352.0 287.4 L1352.5 286.0 L1353.0 284.8 L1353.8 284.2 L1354.9 284.2 L1356.1 284.8 L1357.3 285.6 L1358.7 287.0 L1359.9 288.9 L1360.9 290.9 L1361.7 293.5 L1362.2 296.4 L1362.7 299.3 L1363.4 302.1 L1364.2 304.9 L1365.1 307.6 L1366.0 310.0 L1367.0 312.4 L1368.0 314.7 L1369.2 317.1 L1370.4 319.5 L1371.6 321.9 L1372.8 324.3 L1374.0 326.7 L1375.2 329.0 L1376.4 331.0 L1377.6 333.0 L1378.8 335.0 L1379.6 336.9 L1380.4 338.9 L1381.1 340.9 L1381.9 343.2 L1382.7 345.6 L1383.5 348.0 L1384.5 350.8 L1385.5 353.6 L1386.5 356.4 L1387.3 359.2 L1388.1 361.9 L1388.9 364.7 L1389.6 367.5 L1390.4 370.3 L1391.3 373.0 L1392.2 375.6 L1393.1 378.0 L1394.2 380.2 L1395.1 381.6 L1396.1 382.9 L1397.2 383.8 L1398.5 384.1 L1399.9 384.1 L1401.4 384.0 L1402.9 384.0 L1404.5 384.0 L1406.1 383.8 L1407.8 383.2 L1409.4 382.4 L1410.9 381.4 L1412.2 380.0 L1413.4 378.4 L1414.5 376.6 L1415.4 374.4 L1416.1 371.9 L1416.8 369.5 L1417.6 367.0 L1418.4 364.6 L1419.2 362.3 L1419.9 360.7 L1420.7 359.2 L1421.6 358.2 L1422.3 357.7 L1423.1 357.4 L1424.0 357.3 L1425.1 357.7 L1426.4 358.4 L1427.6 359.4 L1428.8 360.6 L1430.0 362.0 L1431.1 363.5 L1432.3 365.1 L1433.5 366.7 L1434.7 368.3 L1436.2 370.0 L1437.9 371.8 L1439.5 373.6 L1441.1 375.7 L1442.7 377.9 L1444.2 380.2 L1445.5 382.5 L1446.7 384.9 L1447.8 387.3 L1448.8 389.7 L1449.8 392.0 L1450.8 394.5 L1451.6 397.2 L1452.4 400.0 L1453.1 402.8 L1453.8 405.5 L1454.4 408.3 L1454.9 411.1 L1455.4 414.2 L1455.7 417.4 L1456.1 420.6 L1456.5 423.8 L1456.9 427.0 L1457.3 430.2 L1457.7 433.3 L1458.1 436.5 L1458.5 439.7 L1458.8 443.2 L1459.2 446.8 L1459.7 450.4 L1460.4 453.5 L1461.3 456.5 L1462.1 460.0 L1463.1 467.1 L1464.0 475.5 L1464.8 483.8 L1465.8 491.6 L1466.7 499.5 L1467.6 507.6 L1468.5 517.7 L1469.3 528.1 L1470.2 537.9 L1471.0 545.2 L1471.8 552.0 L1472.6 558.8 L1473.3 565.5 L1474.0 572.1 L1474.7 579.0 L1475.6 586.8 L1476.4 594.8 L1477.6 602.8 L1479.1 610.8 L1480.8 618.9 L1482.7 626.6 L1484.4 633.8 L1486.2 640.8 L1488.1 645.6 L1488.8 646.5 L1489.5 647.1 L1490.2 648.0 L1492.0 653.1 L1493.7 660.4 L1495.6 667.6 L1497.5 673.8 L1499.5 680.0 L1501.5 685.5 L1502.9 688.9 L1504.3 692.0 L1505.7 695.0 L1507.1 697.8 L1508.5 700.5 L1509.8 703.3 L1510.9 706.5 L1511.9 709.8 L1512.8 712.8 L1513.5 715.0 L1514.2 717.1 L1515.2 718.8 L1516.2 719.7 L1517.5 720.3 L1518.8 720.9 L1520.3 721.4 L1521.9 721.7 L1523.5 722.1 L1525.1 722.6 L1526.8 723.1 L1528.3 723.2 L1529.7 722.2 L1531.0 720.7 L1532.5 719.7 L1534.0 719.6 L1535.6 720.0 L1537.2 720.2 L1539.0 720.2 L1540.8 720.0 L1542.6 719.7 L1544.0 719.2 L1545.4 718.5 L1546.7 717.6 L1548.0 716.2 L1549.2 714.5 L1550.3 712.8 L1551.3 711.2 L1552.3 709.7 L1553.3 708.0 L1554.1 706.6 L1554.9 705.1 L1555.7 703.3 L1556.4 699.7 L1556.9 695.6 L1557.4 691.4 L1558.0 687.5 L1558.5 683.6 L1559.0 679.5 L1559.6 674.5 L1560.3 669.3 L1561.0 664.0 L1561.8 658.5 L1562.7 653.0 L1563.7 648.0 L1564.7 644.8 L1565.8 641.9 L1566.8 638.5 L1568.2 631.2 L1569.5 622.8 L1570.8 614.7 L1571.8 608.4 L1572.7 602.4 L1573.7 596.8 L1574.5 592.8 L1575.2 589.1 L1576.1 586.1 L1576.8 584.6 L1577.5 583.3 L1578.5 582.6 L1579.9 582.5 L1581.6 583.0 L1583.2 583.8 L1584.8 584.7 L1586.2 585.9 L1587.4 587.3 L1588.6 589.4 L1589.5 591.9 L1590.4 594.5 L1591.2 597.2 L1592.0 599.9 L1592.8 602.8 L1593.7 605.9 L1594.8 609.1 L1595.7 612.3 L1596.6 615.5 L1597.3 618.7 L1598.1 621.8 L1598.9 625.0 L1599.7 628.2 L1600.5 631.4 L1601.3 634.7 L1602.2 638.1 L1602.9 640.9 L1603.2 641.9 L1603.4 642.8 L1603.8 643.8 L1605.1 646.0 L1606.6 648.4 L1608.0 650.9 L1608.9 653.5 L1609.5 656.0 L1610.4 658.1 L1611.1 659.1 L1611.9 659.9 L1612.8 660.2 L1613.9 659.9 L1615.2 659.1 L1616.3 658.1 L1617.3 656.7 L1618.1 655.1 L1618.7 653.3 L1619.5 650.4 L1620.0 647.0 L1620.5 643.8 L1620.9 641.2 L1621.2 638.7 L1621.6 636.1 L1622.3 633.0 L1623.1 629.9 L1623.9 626.6 L1624.6 622.7 L1625.3 618.7 L1626.0 614.7 L1626.7 610.9 L1627.5 607.1 L1628.3 602.8 L1629.4 595.2 L1630.4 586.6 L1631.3 579.0 L1631.9 574.7 L1632.5 570.9 L1633.1 567.1 L1633.7 563.2 L1634.3 559.3 L1634.9 555.2 L1635.7 549.6 L1636.6 543.7 L1637.5 537.9 L1638.3 532.9 L1639.1 528.1 L1640.0 522.8 L1641.1 515.3 L1642.3 507.3 L1643.6 499.0 L1645.1 489.7 L1646.7 480.1 L1648.3 471.0 L1649.6 464.0 L1650.8 457.4 L1651.9 451.4 L1652.7 447.2 L1653.5 443.3 L1654.3 439.5 L1655.2 435.5 L1656.1 431.5 L1657.1 427.6 L1658.2 424.2 L1659.3 421.0 L1660.5 418.1 L1661.2 416.1 L1662.0 414.3 L1662.8 412.7 L1663.7 411.6 L1664.7 410.7 L1665.8 410.0 L1667.1 409.8 L1668.6 409.8 L1670.0 409.8 L1671.2 409.3 L1672.3 408.8 L1673.6 408.6 L1675.1 408.9 L1676.7 409.6 L1678.3 410.3 L1679.9 411.0 L1681.5 411.6 L1683.1 412.1 L1684.7 412.5 L1686.3 412.8 L1687.8 412.7 L1689.1 412.4 L1690.3 411.8 L1691.4 410.9 L1692.3 409.6 L1693.1 407.9 L1693.8 406.2 L1694.5 404.2 L1695.3 402.2 L1696.2 400.2 L1697.2 398.6 L1698.5 397.0 L1699.7 395.5 L1701.0 393.9 L1702.2 392.4 L1703.3 390.7 L1704.2 388.9 L1705.0 387.0 L1705.7 384.8 L1706.1 380.9 L1706.3 376.5 L1706.9 372.5 L1707.7 370.0 L1708.8 367.7 L1709.8 365.4 L1710.8 363.0 L1711.8 360.5 L1712.8 358.3 L1713.7 356.5 L1714.7 355.0 L1715.8 353.5 L1717.1 352.2 L1718.5 351.1 L1720.0 349.9 L1721.5 348.7 L1723.1 347.5 L1724.7 346.4 L1726.3 345.5 L1727.9 344.8 L1729.5 344.0 L1731.1 342.7 L1732.7 341.3 L1734.2 339.8 L1735.8 338.3 L1737.4 336.7 L1739.0 335.1 L1740.6 333.3 L1742.2 331.5 L1743.8 329.7 L1745.0 328.2 L1746.1 326.7 L1747.3 325.5 L1748.4 324.8 L1749.6 324.2 L1750.9 323.8 L1752.7 323.5 L1754.8 323.4 L1756.8 323.5 L1758.9 323.8 L1760.9 324.4 L1762.8 324.9 L1764.4 325.4 L1766.0 326.0 L1767.6 326.7 L1769.2 327.9 L1770.8 329.3 L1772.3 330.9 L1773.7 332.7 L1774.8 334.7 L1775.9 336.8 L1776.8 339.5 L1777.5 342.3 L1778.3 345.2 L1779.2 347.9 L1780.2 350.7 L1781.2 353.5 L1782.3 356.6 L1783.3 359.8 L1784.2 363.0 L1785.0 366.2 L1785.8 369.4 L1786.6 372.5 L1787.5 375.7 L1788.4 378.9 L1789.0 382.1 L1789.0 385.3 L1788.8 388.6 L1789.0 391.9 L1789.8 396.0 L1791.0 400.1 L1792.5 403.8 L1793.9 406.4 L1795.4 408.6 L1797.3 410.3 L1799.7 411.4 L1802.5 412.0 L1805.0 412.1 L1806.9 411.9 L1808.7 411.3 L1810.4 410.3 L1812.1 408.9 L1813.6 407.0 L1815.2 405.0 L1816.8 402.7 L1818.4 400.3 L1819.9 397.9 L1821.2 395.5 L1822.3 393.1 L1823.5 390.7 L1824.7 388.0 L1826.0 385.3 L1827.0 382.4 L1827.8 378.9 L1828.4 375.1 L1829.2 371.4 L1830.4 367.6 L1831.7 363.7 L1833.0 360.0 L1834.1 356.7 L1835.1 353.4 L1836.0 350.0 L1836.9 346.1 L1837.8 342.0 L1838.6 338.0 L1839.3 334.2 L1840.0 330.3 L1840.6 326.5"/>
</g>
<g id="axes" fill="#000" shape-rendering="crispEdges">
<rect x="414" y="113" width="6" height="1256"/>
<rect x="1952" y="113" width="7" height="1256"/>
<rect x="393" y="113" width="1566" height="7"/>
<rect x="393" y="1354" width="1566" height="7"/>
<rect x="393" y="1177" width="21" height="7"/>
<rect x="393" y="999" width="21" height="7"/>
<rect x="393" y="822" width="21" height="7"/>
<rect x="393" y="645" width="21" height="7"/>
<rect x="393" y="468" width="21" height="7"/>
<rect x="393" y="290" width="21" height="7"/>
<rect x="405" y="1265" width="9" height="7"/>
<rect x="405" y="1088" width="9" height="7"/>
<rect x="405" y="911" width="9" height="7"/>
<rect x="405" y="733" width="9" height="7"/>
<rect x="405" y="556" width="9" height="7"/>
<rect x="405" y="379" width="9" height="7"/>
<rect x="405" y="202" width="9" height="7"/>
<rect x="524" y="1361" width="6" height="20"/>
<rect x="744" y="1361" width="6" height="20"/>
<rect x="963" y="1361" width="6" height="20"/>
<rect x="1183" y="1361" width="6" height="20"/>
<rect x="1403" y="1361" width="6" height="20"/>
<rect x="1623" y="1361" width="6" height="20"/>
<rect x="1843" y="1361" width="6" height="20"/>
<rect x="634" y="1361" width="6" height="8"/>
<rect x="854" y="1361" width="6" height="8"/>
<rect x="1073" y="1361" width="6" height="8"/>
<rect x="1293" y="1361" width="6" height="8"/>
<rect x="1513" y="1361" width="6" height="8"/>
<rect x="1733" y="1361" width="6" height="8"/>
</g>
<g id="ylabels" font-size="76" text-anchor="end">
<text transform="translate(377.4 1380.4) scale(1 1.034)">0.35</text>
<text transform="translate(377.4 1203.1) scale(1 1.034)">0.40</text>
<text transform="translate(377.4 1025.8) scale(1 1.034)">0.45</text>
<text transform="translate(377.4 848.5) scale(1 1.034)">0.50</text>
<text transform="translate(377.4 671.3) scale(1 1.034)">0.55</text>
<text transform="translate(377.4 494.0) scale(1 1.034)">0.60</text>
<text transform="translate(377.4 316.7) scale(1 1.034)">0.65</text>
<text transform="translate(377.4 139.4) scale(1 1.034)">0.70</text>
</g>
<g id="xlabels" font-size="76" text-anchor="middle">
<text transform="translate(527.8 1459.3) scale(1 1.034)">0</text>
<text transform="translate(747.6 1459.3) scale(1 1.034)">5</text>
<text transform="translate(967.4 1459.3) scale(1 1.034)">10</text>
<text transform="translate(1187.2 1459.3) scale(1 1.034)">15</text>
<text transform="translate(1406.9 1459.3) scale(1 1.034)">20</text>
<text transform="translate(1626.7 1459.3) scale(1 1.034)">25</text>
<text transform="translate(1846.5 1459.3) scale(1 1.034)">30</text>
</g>
<text id="xtitle" x="587" y="1602" font-size="90.6" xml:space="preserve">Distance from electrolyte / <tspan class="mu" font-size="94" dx="1.5">µ</tspan><tspan dx="-1.5">m</tspan></text>
<text id="ytitle" transform="translate(171.6 736.2) rotate(-90) scale(1 1.045)" font-size="100" text-anchor="middle">Ni/(Ni+Zr+Y)</text>
<g id="legend">
<g shape-rendering="crispEdges"><rect x="863" y="913" width="1055" height="364" fill="#000"/><rect x="865" y="916" width="1051" height="359" fill="#fff"/></g>
<path d="M929.5 929.5l21.5 21.5l-21.5 21.5l-21.5 -21.5zm0 0v43.0m-21.5 -21.5h43.0" fill="#fff" stroke="#009400" stroke-width="8.2" stroke-linejoin="round"/>
<line x1="871.2" y1="1014.5" x2="987.8" y2="1014.5" stroke="#006400" stroke-width="10.8" stroke-linecap="round"/>
<line x1="871.2" y1="1078.2" x2="987.8" y2="1078.2" stroke="#000" stroke-width="10.8" stroke-linecap="round"/>
<line x1="871.2" y1="1153.8" x2="987.8" y2="1153.8" stroke="#ff0000" stroke-width="10.8" stroke-linecap="round"/>
<line x1="871.2" y1="1230" x2="987.8" y2="1230" stroke="#0000ff" stroke-width="10.8" stroke-linecap="round"/>
<g font-size="52.7" xml:space="preserve">
<text x="1001.9" y="969.4" font-size="53.3">Reference cell</text>
<text x="1001.9" y="1033.5" font-size="53.3">Reference trend</text>
<text x="1002.6" y="1096.2">800°C 50% H<tspan font-size="36.9" dy="13.5">2</tspan><tspan dy="-13.5">O + 50% H</tspan><tspan font-size="36.9" dy="13.5">2</tspan></text>
<text x="1002.6" y="1172.4">750°C 50% H<tspan font-size="36.9" dy="13.5">2</tspan><tspan dy="-13.5">O + 50% H</tspan><tspan font-size="36.9" dy="13.5">2</tspan></text>
<text x="1002.6" y="1248.6">800°C 40% H<tspan font-size="36.9" dy="13.5">2</tspan><tspan dy="-13.5">O + 40% CO</tspan><tspan font-size="36.9" dy="13.5">2</tspan><tspan dy="-13.5"> + 20% H2</tspan></text>
</g>
</g>
</svg>
</body>
</html>
